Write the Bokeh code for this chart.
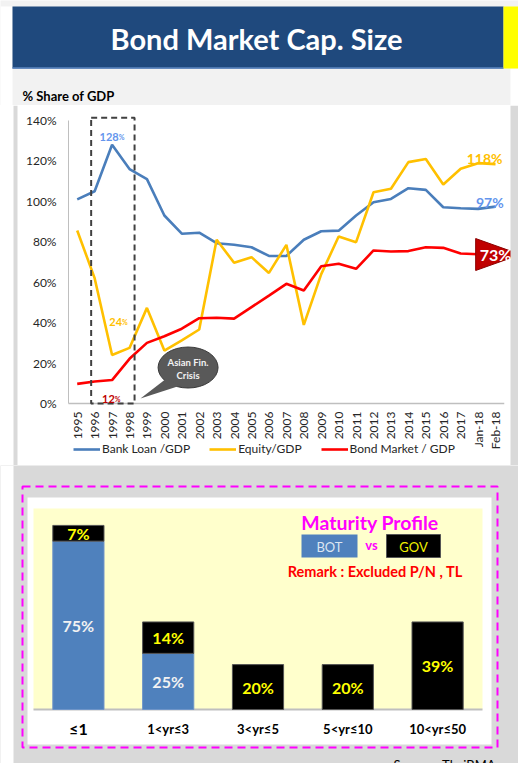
import math
from bokeh.plotting import figure
from bokeh.models import Range1d, FixedTicker, PrintfTickFormatter, Legend, LegendItem
from bokeh.layouts import column
from bokeh.core.properties import value
from bokeh.embed import file_html
from bokeh.resources import INLINE

FONT = "Lato"

# ---------------- data ----------------
periods = ["1995", "1996", "1997", "1998", "1999", "2000", "2001", "2002", "2003", "2004",
           "2005", "2006", "2007", "2008", "2009", "2010", "2011", "2012", "2013", "2014",
           "2015", "2016", "2017", "Jan-18", "Feb-18"]
bank_loan = [101, 105, 128, 116, 111, 93, 84, 84.5, 79.3, 78.5,
             77.3, 73, 73, 81, 85.2, 85.5, 93, 99.6, 101.2, 106.5,
             105.7, 97.1, 96.6, 96.3, 97.4]
equity = [85.6, 62, 24, 27.5, 47.3, 26.2, 31.2, 36.6, 81, 69.6,
          72.4, 64.6, 78.5, 38.9, 64, 82.6, 79.8, 104.5, 106.2, 119.4,
          121, 108.3, 116.1, 118.9, 118.4]
bond_market = [9.7, 10.9, 11.6, 22.1, 30, 33.3, 37, 42.2, 42.4, 42,
               47.7, 53.4, 59.2, 55.9, 67.9, 69.1, 66.6, 75.7, 75.2, 75.4,
               77.3, 77, 74.2, 73.8, 73.4]
y_ticks = [0, 20, 40, 60, 80, 100, 120, 140]

maturity = ["≤1", "1<yr≤3", "3<yr≤5", "5<yr≤10", "10<yr≤50"]
bot_share = [75, 25, 0, 0, 0]
gov_share = [7, 14, 20, 20, 39]

BLUE = "#4A7EBB"
ORANGE = "#FFC000"
RED = "#FF0000"
LIGHT_BLUE = "#6495ED"
GRAY_BG = "#d9d9d9"
W = 518


def common(**kw):
    base = dict(title=None, toolbar_location=None, output_backend="svg", min_border=0,
                outline_line_color=None, x_axis_type=None, y_axis_type=None)
    base.update(kw)
    return base


# ---------------- header ----------------
HB = 105
hdr = figure(width=W, height=HB, x_range=Range1d(0, W), y_range=Range1d(HB, 0),
             background_fill_color="#f2f2f2", border_fill_color="#f2f2f2", **common())
hdr.quad(left=[0], right=[12], top=[6], bottom=[HB], fill_color="white", line_color=None)
hdr.quad(left=[510], right=[518], top=[68], bottom=[HB], fill_color="white", line_color=None)
hdr.quad(left=[12], right=[503], top=[6], bottom=[68], fill_color="#1F497D", line_color=None)
hdr.segment(x0=[12], y0=[67.5], x1=[503], y1=[67.5], line_color="#5b86c0", line_width=1.5)
hdr.quad(left=[503], right=[518], top=[6], bottom=[68], fill_color="#FFFF00", line_color=None)
hdr.text(x=[256], y=[38], text=["Bond Market Cap. Size"], text_align="center",
         text_baseline="middle", text_color="white", text_font=value(FONT),
         text_font_style="bold", text_font_size="29px")
hdr.text(x=[22], y=[95], text=["% Share of GDP"], text_align="left", text_baseline="middle",
         text_color="black", text_font=value(FONT), text_font_style="bold", text_font_size="13px")

# ---------------- line chart ----------------
n = len(periods)
PXC = 17.43            # px per category
PXV = 283 / 140        # px per percent point
AX_X, AX_Y = 68, 403   # page position of the axes corner
TOP, BOT = HB, 465     # page rows of this panel
x_start = -0.5 - AX_X / PXC
x_end = -0.5 + (W - AX_X) / PXC
y_start = -(BOT - AX_Y) / PXV
y_end = (AX_Y - TOP) / PXV

p = figure(width=W, height=BOT - TOP, x_range=Range1d(x_start, x_end),
           y_range=Range1d(y_start, y_end), title=None, toolbar_location=None,
           output_backend="svg", min_border=0, outline_line_color=None,
           background_fill_color="white", border_fill_color="white")
p.grid.visible = False
p.xaxis.ticker = FixedTicker(ticks=list(range(n)))
p.xaxis.major_label_overrides = {i: lab for i, lab in enumerate(periods)}
p.xaxis.major_label_orientation = math.pi / 2
p.yaxis.ticker = FixedTicker(ticks=y_ticks)
p.yaxis.formatter = PrintfTickFormatter(format="%d%%")
p.xaxis.fixed_location = 0
p.yaxis.fixed_location = -0.5
for ax in (p.xaxis[0], p.yaxis[0]):
    ax.axis_line_color = None
    ax.major_tick_line_color = None
    ax.minor_tick_line_color = None
    ax.major_tick_out = 0
    ax.major_tick_in = 0
    ax.major_label_text_font = FONT
    ax.major_label_text_color = "#262626"
p.xaxis.major_label_text_font_size = "12px"
p.yaxis.major_label_text_font_size = "12px"
p.xaxis.major_label_standoff = 8
p.yaxis.major_label_standoff = 12

# page strips (white margin / gray frame on the left)
p.quad(left=[x_start], right=[x_start + 13 / PXC], bottom=[y_start], top=[y_end],
       fill_color="white", line_color=None)
p.quad(left=[x_start + 13 / PXC], right=[x_start + 17 / PXC], bottom=[y_start], top=[y_end],
       fill_color=GRAY_BG, line_color=None)

# axis lines
p.segment(x0=[-0.5], y0=[0], x1=[n - 0.5], y1=[0], line_color="#BFBFBF", line_width=1.5)
p.segment(x0=[-0.5], y0=[0], x1=[-0.5], y1=[y_ticks[-1]], line_color="#BFBFBF", line_width=1)

xs = list(range(n))
r_bank = p.line(xs, bank_loan, line_color=BLUE, line_width=2.6)
r_eq = p.line(xs, equity, line_color=ORANGE, line_width=2.6)
r_bond = p.line(xs, bond_market, line_color=RED, line_width=2.6)

# Asian crisis box
i96, i97, i98 = periods.index("1996"), periods.index("1997"), periods.index("1998")
p.quad(left=[i96 - 0.2], right=[i98 + 0.29], bottom=[0], top=[141.3], fill_color=None,
       line_color="#404040", line_width=2, line_dash="6 4")

# bubble
p.ellipse(x=[6.36], y=[17.8], width=60, height=41, width_units="screen", height_units="screen",
          fill_color="#595959", line_color="#3a3a3a", line_width=1)
p.patch(x=[3.63, 5.12, 5.93], y=[2.47, 12.4, 8.9], fill_color="#595959", line_color=None)
p.text(x=[6.36, 6.36], y=[20.2, 13.8], text=["Asian Fin.", "Crisis"], text_align="center",
       text_baseline="middle", text_color="#f2f2f2", text_font=value(FONT),
       text_font_style="bold", text_font_size="9.5px")


def small_label(xv, yv, txt, color, size="11px"):
    p.text(x=[xv], y=[yv], text=[txt], text_align="right", text_baseline="alphabetic",
           text_color=color, text_font=value(FONT), text_font_style="bold", text_font_size=size)
    p.text(x=[xv], y=[yv], text=["%"], text_align="left", text_baseline="alphabetic",
           text_color=color, text_font=value(FONT), text_font_style="bold", text_font_size="7px")


small_label(i97 + 0.38, 131.8, f"{bank_loan[i97]:.0f}", LIGHT_BLUE)
small_label(i97 + 0.57, 40.2, f"{equity[i97]:.0f}", ORANGE)
small_label(i97 + 0.155, 2.0, f"{bond_market[i97]:.0f}", "#C00000")

last = n - 1
p.text(x=[last - 0.63], y=[121.1], text=[f"{equity[-1]:.0f}%"], text_align="center",
       text_baseline="alphabetic", text_color=ORANGE, text_font=value(FONT),
       text_font_style="bold", text_font_size="14px")
p.text(x=[last - 0.33], y=[99.2], text=[f"{bank_loan[-1]:.0f}%"], text_align="center",
       text_baseline="alphabetic", text_color=LIGHT_BLUE, text_font=value(FONT),
       text_font_style="bold", text_font_size="14px")
p.patch(x=[last - 1.14, last - 1.14, last + 1.43], y=[81.6, 65.8, 73.7], fill_color="#C00000",
        line_color="#8B0000", line_width=1)
# right gray strip (covers the callout tip, text stays on top)
p.quad(left=[x_end - 8 / PXC], right=[x_end], bottom=[y_start], top=[y_end],
       fill_color=GRAY_BG, line_color=None)
p.text(x=[last], y=[73.7], text=[f"{bond_market[-1]:.0f}%"], text_align="center",
       text_baseline="middle", text_color="white", text_font=value(FONT),
       text_font_style="bold", text_font_size="16px")

legend = Legend(items=[LegendItem(label="Bank Loan /GDP", renderers=[r_bank]),
                       LegendItem(label="Equity/GDP", renderers=[r_eq]),
                       LegendItem(label="Bond Market / GDP", renderers=[r_bond])],
                orientation="horizontal", location=(73, 9), label_text_font=FONT,
                label_text_font_size="12px", label_text_color="#262626",
                glyph_width=27, glyph_height=12, label_height=12, label_standoff=2,
                spacing=19, padding=0, margin=0, border_line_color=None,
                background_fill_alpha=0)
p.add_layout(legend)

# ---------------- maturity profile ----------------
H = 763
b = figure(width=W, height=H - BOT, x_range=Range1d(0, W), y_range=Range1d(H, BOT),
           background_fill_color=GRAY_BG, border_fill_color=GRAY_BG, **common())
b.quad(left=[0], right=[13], top=[BOT], bottom=[H], fill_color="white", line_color=None)
b.quad(left=[27], right=[491], top=[497], bottom=[744], fill_color="white", line_color=None)
b.quad(left=[22], right=[497], top=[486], bottom=[747], fill_color=None, line_color="#FF00FF",
       line_width=2, line_dash="8 5")
PA_L, PA_R, PA_T, PA_B = 33, 482, 508, 709
b.quad(left=[PA_L], right=[PA_R], top=[PA_T], bottom=[PA_B], fill_color="#FFFFCC", line_color=None)
b.segment(x0=[PA_L], y0=[PA_B], x1=[PA_R], y1=[PA_B], line_color="#BFBFBF", line_width=2)

m = len(maturity)
kc = m / (PA_R - PA_L)
PX_PER_PCT = 2.245
b.extra_x_ranges = {"mat": Range1d(-PA_L * kc, m + (W - PA_R) * kc)}
b.extra_y_ranges = {"pct": Range1d(-(H - PA_B) / PX_PER_PCT, (PA_B - BOT) / PX_PER_PCT)}

bx = [i + 0.5 for i in range(m)]
bot_x = [bx[i] for i in range(m) if bot_share[i] > 0]
bot_v = [bot_share[i] for i in range(m) if bot_share[i] > 0]
b.vbar(x=bot_x, bottom=0, top=bot_v, width=0.57, x_range_name="mat", y_range_name="pct",
       fill_color="#4F81BD", line_color="#6f95c8", line_width=1)
gov_top = [bot_share[i] + gov_share[i] for i in range(m)]
b.vbar(x=bx, bottom=bot_share, top=gov_top, width=0.57, x_range_name="mat", y_range_name="pct",
       fill_color="black", line_color="#555555", line_width=1)

b.text(x=bot_x, y=[v / 2 for v in bot_v], text=[f"{v}%" for v in bot_v],
       x_range_name="mat", y_range_name="pct", text_align="center", text_baseline="middle",
       text_color="#F2F2F2", text_font=value(FONT), text_font_style="bold", text_font_size="16px")
b.text(x=bx, y=[bot_share[i] + gov_share[i] / 2 for i in range(m)],
       text=[f"{v}%" for v in gov_share], x_range_name="mat", y_range_name="pct",
       text_align="center", text_baseline="middle", text_color="#FFFF00",
       text_font=value(FONT), text_font_style="bold", text_font_size="16px")

b.text(x=bx, y=[728] * m, text=maturity, x_range_name="mat", text_align="center",
       text_baseline="middle", text_color="black", text_font=value(FONT),
       text_font_style="bold", text_font_size=["16px"] + ["13px"] * (m - 1))

b.text(x=[369.5], y=[521.5], text=["Maturity Profile"], text_align="center", text_baseline="middle",
       text_color="#FF00FF", text_font=value(FONT), text_font_style="bold", text_font_size="19.5px")
b.quad(left=[301], right=[357], top=[534], bottom=[557], fill_color="#4F81BD", line_color=None)
b.text(x=[329], y=[546], text=["BOT"], text_align="center", text_baseline="middle",
       text_color="#DCE6F2", text_font=value(FONT), text_font_size="13px")
b.text(x=[371], y=[544], text=["vs"], text_align="center", text_baseline="middle",
       text_color="#FF00FF", text_font=value(FONT), text_font_style="bold", text_font_size="13px")
b.quad(left=[386], right=[440], top=[534], bottom=[557], fill_color="black", line_color="#555555")
b.text(x=[413], y=[546], text=["GOV"], text_align="center", text_baseline="middle",
       text_color="#F0F000", text_font=value(FONT), text_font_size="13px")
b.text(x=[374.7], y=[571], text=["Remark : Excluded P/N , TL"], text_align="center",
       text_baseline="middle", text_color="#FF0000", text_font=value(FONT),
       text_font_style="bold", text_font_size="14.5px")
b.text(x=[393], y=[756], text=["Source : ThaiBMA"], text_align="left", text_baseline="top",
       text_color="black", text_font=value(FONT), text_font_size="13px")

root = column(hdr, p, b, spacing=0)

open("out.html", "w").write(file_html(root, INLINE))
